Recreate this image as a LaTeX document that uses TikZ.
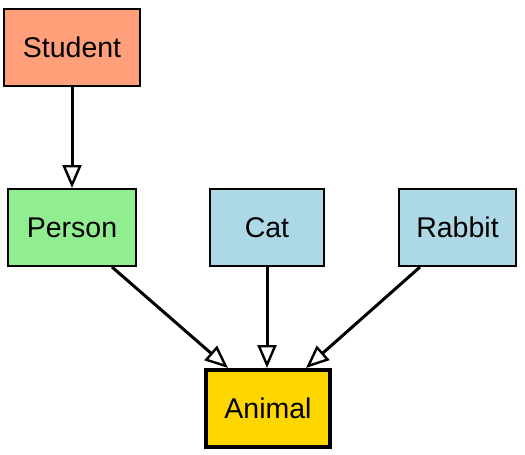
\documentclass[tikz,border=0pt]{standalone}
\usepackage{fontspec}
\setmainfont{Liberation Sans}
\usetikzlibrary{arrows.meta}
\definecolor{salmonc}{HTML}{FFA07A}
\definecolor{greenc}{HTML}{90EE90}
\definecolor{bluec}{HTML}{ADD8E6}
\definecolor{goldc}{HTML}{FFD700}
\begin{document}
\begin{tikzpicture}[x=1pt,y=-1pt,
  box/.style={draw=black,line width=2pt,minimum height=77pt,inner sep=0pt,font=\fontsize{28.5}{32}\selectfont},
  arr/.style={line width=3pt,-{Triangle[open,length=23pt,width=19pt,line width=2.4pt]}}]
\useasboundingbox (0,0) rectangle (525,455);
\node[box,fill=salmonc,minimum width=136pt] (student) at (72,47.5) {Student};
\node[box,fill=greenc,minimum width=128pt] (person) at (72,227.5) {Person};
\node[box,fill=bluec,minimum width=114pt] (cat) at (267,227.5) {Cat};
\node[box,fill=bluec,minimum width=117pt] (rabbit) at (457.5,227.5) {Rabbit};
\node[box,fill=goldc,minimum width=124pt,minimum height=77pt,line width=4pt] (animal) at (268,408.5) {Animal};
\draw[arr] (student.south) -- (person.north);
\draw[arr] (person.south -| 112,0) -- (animal.north -| 228,0);
\draw[arr] (cat.south) -- (animal.north -| 267,0);
\draw[arr] (rabbit.south -| 420,0) -- (animal.north -| 306,0);
\end{tikzpicture}
\end{document}
